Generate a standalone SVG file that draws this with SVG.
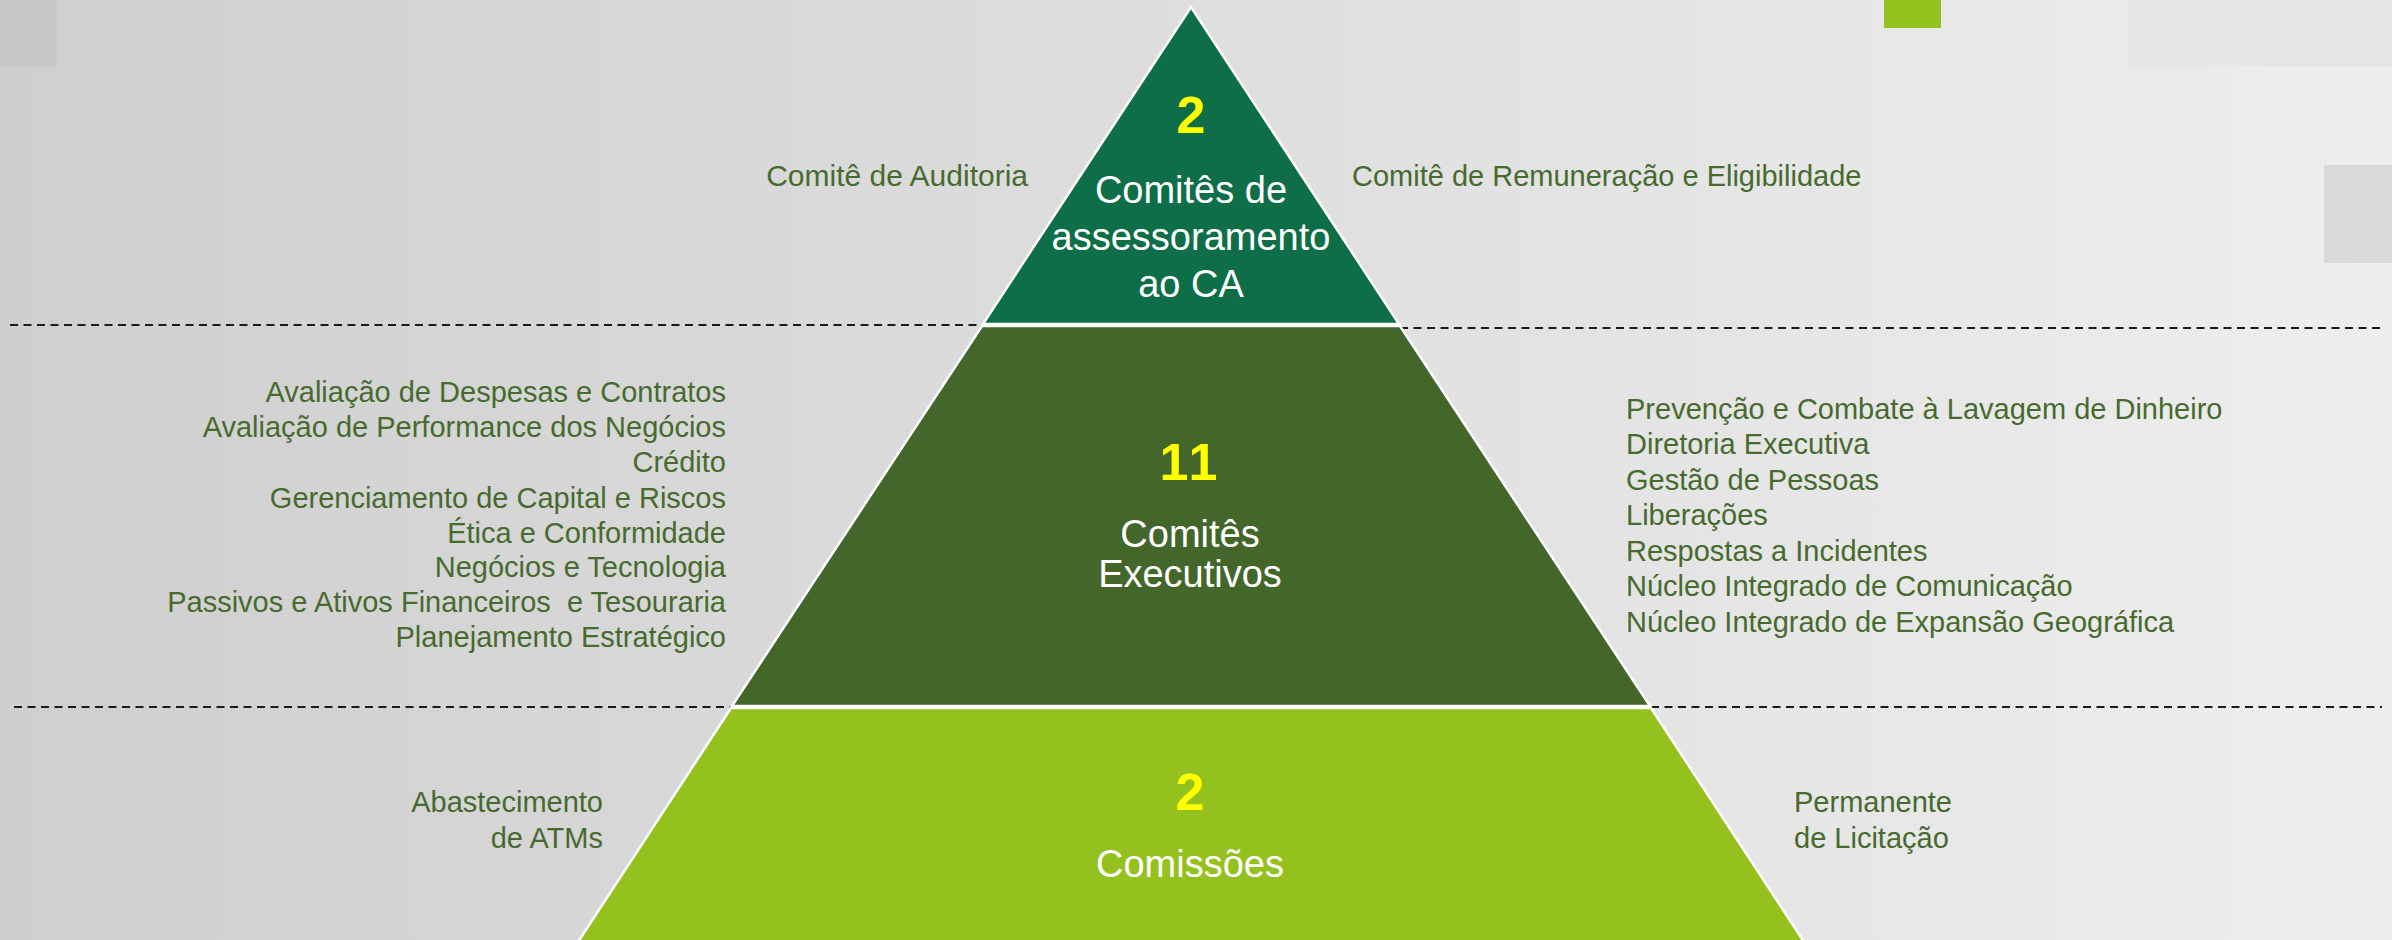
<svg xmlns="http://www.w3.org/2000/svg" width="2392" height="940" viewBox="0 0 2392 940">
<defs>
<linearGradient id="bg" x1="0" y1="0" x2="1" y2="0">
<stop offset="0" stop-color="#CFCFCF"/>
<stop offset="0.5" stop-color="#DEDEDE"/>
<stop offset="1" stop-color="#EEEEEE"/>
</linearGradient>
<style>
.lbl{font-family:"Liberation Sans",Arial,sans-serif;font-size:29px;fill:#476A2E}
.lbl30{font-size:30px}
.num{font-family:"Liberation Sans",Arial,sans-serif;font-size:52px;font-weight:bold;fill:#FFFF00;text-anchor:middle}
.ttl{font-family:"Liberation Sans",Arial,sans-serif;font-size:38px;fill:#FFFFFF;text-anchor:middle}
.dash{stroke:#1A1A1A;stroke-width:2;stroke-dasharray:8 5.5;fill:none}
.tier{stroke:#FFFFFF;stroke-width:2.5;stroke-linejoin:miter}
</style>
</defs>
<rect x="0" y="0" width="2392" height="940" fill="url(#bg)"/>
<g id="background-squares">
<rect x="0" y="0" width="57" height="67" fill="#C8C8C8"/>
<rect x="2128" y="0" width="196" height="67" fill="#E6E6E6"/>
<rect x="2324" y="0" width="68" height="67" fill="#E5E5E5"/>
<rect x="2324" y="165" width="68" height="98" fill="#D9D9D9"/>
<rect x="1884" y="0" width="57" height="28" fill="#95C11F"/>
</g>
<g id="connectors">
<line class="dash" x1="10" y1="325" x2="983" y2="325"/>
<line class="dash" x1="1400" y1="328" x2="2382" y2="328"/>
<line class="dash" x1="14" y1="707" x2="732" y2="707"/>
<line class="dash" x1="1651" y1="707" x2="2382" y2="707"/>
</g>
<g id="tier-top">
<polygon class="tier" fill="#0E6E48" points="1191,7 1399,324 983,324"/>
<text class="num" x="1191" y="133">2</text>
<text class="ttl" x="1191" y="203">Comitês de</text>
<text class="ttl" x="1191" y="250">assessoramento</text>
<text class="ttl" x="1191" y="297">ao CA</text>
</g>
<g id="tier-middle">
<polygon class="tier" fill="#43662A" points="982,326 1400,326 1650,706 732,706"/>
<text class="num" x="1190" y="480" letter-spacing="3">11</text>
<text class="ttl" x="1190" y="547">Comitês</text>
<text class="ttl" x="1190" y="587">Executivos</text>
</g>
<g id="tier-bottom">
<polygon class="tier" fill="#95C11F" points="731,708 1651,708 1806,945 576,945"/>
<text class="num" x="1190" y="810">2</text>
<text class="ttl" x="1190" y="877">Comissões</text>
</g>
<g id="labels-top">
<text class="lbl lbl30" x="1028" y="186" text-anchor="end">Comitê de Auditoria</text>
<text class="lbl" x="1352" y="186">Comitê de Remuneração e Eligibilidade</text>
</g>
<g id="labels-middle-left" text-anchor="end">
<text class="lbl" x="726" y="402">Avaliação de Despesas e Contratos</text>
<text class="lbl" x="726" y="437">Avaliação de Performance dos Negócios</text>
<text class="lbl" x="726" y="472">Crédito</text>
<text class="lbl" x="726" y="508">Gerenciamento de Capital e Riscos</text>
<text class="lbl" x="726" y="543">Ética e Conformidade</text>
<text class="lbl" x="726" y="577">Negócios e Tecnologia</text>
<text class="lbl" x="726" y="612" xml:space="preserve">Passivos e Ativos Financeiros  e Tesouraria</text>
<text class="lbl" x="726" y="647">Planejamento Estratégico</text>
</g>
<g id="labels-middle-right">
<text class="lbl" x="1626" y="419">Prevenção e Combate à Lavagem de Dinheiro</text>
<text class="lbl" x="1626" y="454">Diretoria Executiva</text>
<text class="lbl" x="1626" y="490">Gestão de Pessoas</text>
<text class="lbl" x="1626" y="525">Liberações</text>
<text class="lbl" x="1626" y="561">Respostas a Incidentes</text>
<text class="lbl" x="1626" y="596">Núcleo Integrado de Comunicação</text>
<text class="lbl" x="1626" y="632">Núcleo Integrado de Expansão Geográfica</text>
</g>
<g id="labels-bottom">
<text class="lbl" x="603" y="812" text-anchor="end">Abastecimento</text>
<text class="lbl" x="603" y="848" text-anchor="end">de ATMs</text>
<text class="lbl" x="1794" y="812">Permanente</text>
<text class="lbl" x="1794" y="848">de Licitação</text>
</g>
</svg>
